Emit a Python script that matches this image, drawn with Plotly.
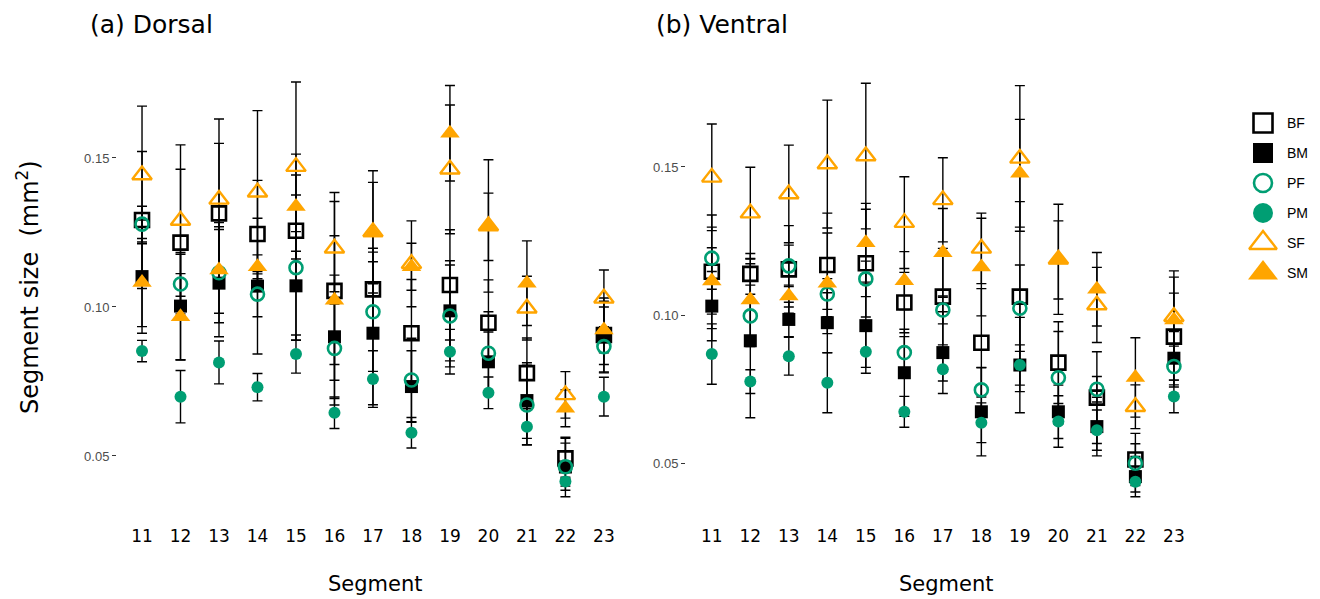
import plotly.graph_objects as go

# ---------------- data ----------------
segments = [11, 12, 13, 14, 15, 16, 17, 18, 19, 20, 21, 22, 23]
series = ["BF", "BM", "PF", "PM", "SF", "SM"]

# (a) Dorsal - means
dorsal_bf = [0.1292, 0.1216, 0.1314, 0.1245, 0.1256, 0.1054, 0.1059, 0.0912, 0.1074, 0.0947, 0.0778, 0.0492, 0.0906]
dorsal_bm = [0.1102, 0.1003, 0.1080, 0.1070, 0.1071, 0.0900, 0.0912, 0.0733, 0.0987, 0.0816, 0.0686, 0.0463, 0.0899]
dorsal_pf = [0.1278, 0.1077, 0.1115, 0.1043, 0.1132, 0.0861, 0.0984, 0.0755, 0.0970, 0.0845, 0.0671, 0.0464, 0.0867]
dorsal_pm = [0.0852, 0.0699, 0.0814, 0.0731, 0.0842, 0.0645, 0.0758, 0.0578, 0.0850, 0.0712, 0.0598, 0.0414, 0.0699]
dorsal_sf = [0.1443, 0.1290, 0.1361, 0.1385, 0.1471, 0.1197, 0.1252, 0.1145, 0.1462, 0.1272, 0.0996, 0.0705, 0.1029]
dorsal_sm = [0.1082, 0.0967, 0.1124, 0.1135, 0.1337, 0.1023, 0.1248, 0.1135, 0.1583, 0.1269, 0.1080, 0.0660, 0.0923]
# (a) Dorsal - error bar half-lengths
dorsal_bf_err = [0.0230, 0.0246, 0.0235, 0.0180, 0.0187, 0.0300, 0.0138, 0.0180, 0.0185, 0.0144, 0.0118, 0.0067, 0.0124]
dorsal_bm_err = [0.0190, 0.0180, 0.0180, 0.0228, 0.0182, 0.0207, 0.0240, 0.0120, 0.0168, 0.0100, 0.0127, 0.0100, 0.0120]
dorsal_pf_err = [0.0060, 0.0100, 0.0168, 0.0076, 0.0244, 0.0190, 0.0200, 0.0140, 0.0171, 0.0139, 0.0134, 0.0079, 0.0060]
dorsal_pm_err = [0.0036, 0.0088, 0.0072, 0.0046, 0.0064, 0.0053, 0.0095, 0.0051, 0.0075, 0.0053, 0.0060, 0.0015, 0.0065]
dorsal_sf_err = [0.0231, 0.0254, 0.0270, 0.0274, 0.0284, 0.0187, 0.0205, 0.0144, 0.0216, 0.0222, 0.0107, 0.0078, 0.0095]
dorsal_sm_err = [0.0148, 0.0145, 0.0145, 0.0040, 0.0176, 0.0216, 0.0170, 0.0079, 0.0160, 0.0113, 0.0142, 0.0062, 0.0077]

# (b) Ventral - means
ventral_bf = [0.1146, 0.1139, 0.1154, 0.1169, 0.1175, 0.1042, 0.1062, 0.0906, 0.1062, 0.0839, 0.0721, 0.0512, 0.0927]
ventral_bm = [0.1030, 0.0913, 0.0985, 0.0974, 0.0964, 0.0805, 0.0873, 0.0673, 0.0831, 0.0673, 0.0623, 0.0454, 0.0854]
ventral_pf = [0.1192, 0.0997, 0.1166, 0.1071, 0.1122, 0.0873, 0.1017, 0.0747, 0.1023, 0.0788, 0.0749, 0.0499, 0.0826]
ventral_pm = [0.0868, 0.0775, 0.0861, 0.0771, 0.0876, 0.0673, 0.0817, 0.0636, 0.0831, 0.0640, 0.0611, 0.0437, 0.0725]
ventral_sf = [0.1465, 0.1344, 0.1409, 0.1510, 0.1537, 0.1312, 0.1389, 0.1225, 0.1529, 0.1188, 0.1034, 0.0690, 0.0994]
ventral_sm = [0.1115, 0.1051, 0.1064, 0.1107, 0.1244, 0.1116, 0.1210, 0.1162, 0.1479, 0.1186, 0.1087, 0.0789, 0.0983]
# (b) Ventral - error bar half-lengths
ventral_bf_err = [0.0192, 0.0069, 0.0148, 0.0175, 0.0182, 0.0102, 0.0163, 0.0183, 0.0321, 0.0138, 0.0155, 0.0088, 0.0147]
ventral_bm_err = [0.0117, 0.0260, 0.0058, 0.0101, 0.0141, 0.0147, 0.0138, 0.0149, 0.0161, 0.0090, 0.0099, 0.0068, 0.0090]
ventral_pf_err = [0.0105, 0.0104, 0.0070, 0.0052, 0.0060, 0.0054, 0.0047, 0.0076, 0.0146, 0.0156, 0.0043, 0.0066, 0.0069]
ventral_pm_err = [0.0102, 0.0040, 0.0064, 0.0101, 0.0073, 0.0052, 0.0040, 0.0067, 0.0068, 0.0087, 0.0068, 0.0035, 0.0055]
ventral_sf_err = [0.0180, 0.0155, 0.0165, 0.0216, 0.0246, 0.0155, 0.0142, 0.0119, 0.0246, 0.0186, 0.0127, 0.0074, 0.0155]
ventral_sm_err = [0.0112, 0.0140, 0.0037, 0.0170, 0.0133, 0.0098, 0.0150, 0.0165, 0.0182, 0.0132, 0.0124, 0.0134, 0.0145]

y_tick_vals = [0.05, 0.10, 0.15]
y_tick_text = ["0.05", "0.10", "0.15"]
panel_titles = ["(a) Dorsal", "(b) Ventral"]

# ---------------- styles ----------------
ORANGE = "#FFA500"
GREEN = "#009E73"
style = {
    "BF": dict(symbol="square-open", color="black", size=14, lw=2.6, lsize=19),
    "BM": dict(symbol="square", color="black", size=13, lw=0, lsize=20),
    "PF": dict(symbol="circle-open", color=GREEN, size=13, lw=2.6, lsize=18),
    "PM": dict(symbol="circle", color=GREEN, size=12, lw=0, lsize=20),
    "SF": dict(symbol="triangle-up-open", color=ORANGE, size=17, lw=2.4, lsize=24),
    "SM": dict(symbol="triangle-up", color=ORANGE, size=17, lw=0, lsize=26),
}

panels = [
    ("x", "y", {"BF": (dorsal_bf, dorsal_bf_err), "BM": (dorsal_bm, dorsal_bm_err),
                "PF": (dorsal_pf, dorsal_pf_err), "PM": (dorsal_pm, dorsal_pm_err),
                "SF": (dorsal_sf, dorsal_sf_err), "SM": (dorsal_sm, dorsal_sm_err)}),
    ("x2", "y2", {"BF": (ventral_bf, ventral_bf_err), "BM": (ventral_bm, ventral_bm_err),
                  "PF": (ventral_pf, ventral_pf_err), "PM": (ventral_pm, ventral_pm_err),
                  "SF": (ventral_sf, ventral_sf_err), "SM": (ventral_sm, ventral_sm_err)}),
]

fig = go.Figure()

for xa, ya, data in panels:
    # error bars first (drawn beneath all points)
    for s in series:
        vals, errs = data[s]
        fig.add_trace(go.Scatter(
            x=segments, y=vals, xaxis=xa, yaxis=ya, mode="markers",
            marker=dict(size=1, color="rgba(0,0,0,0)"),
            error_y=dict(type="data", array=errs, color="black", thickness=1.4, width=5),
            showlegend=False, hoverinfo="skip"))
    for s in series:
        vals, errs = data[s]
        st = style[s]
        fig.add_trace(go.Scatter(
            x=segments, y=vals, xaxis=xa, yaxis=ya, mode="markers", name=s,
            marker=dict(symbol=st["symbol"], size=st["size"], color=st["color"],
                        line=dict(width=st["lw"], color=st["color"])),
            showlegend=False))

# page geometry: the page body has an 8px margin, so the figure is offset by 8px
OFF = 8
W, H = 1312, 591


def px_x(p):
    return (p - OFF) / W


def px_y(p):
    return 1 - (p - OFF) / H


# ---------------- manual legend (own axes, page-pixel coordinates) ----------------
legend_top = 123
legend_gap = 30
for i, s in enumerate(series):
    st = style[s]
    fig.add_trace(go.Scatter(
        x=[23], y=[legend_top + legend_gap * i], xaxis="x3", yaxis="y3", mode="markers",
        marker=dict(symbol=st["symbol"], size=st["lsize"], color=st["color"],
                    line=dict(width=st["lw"], color=st["color"])),
        showlegend=False, hoverinfo="skip"))
    fig.add_annotation(x=45, y=legend_top + legend_gap * i, xref="x3", yref="y3",
                       text=s, showarrow=False, xanchor="left", yanchor="middle",
                       font=dict(family="Liberation Sans, Arial", size=14, color="black"))

yaxis_common = dict(showgrid=False, zeroline=False, showline=False, ticks="outside",
                    ticklen=4, tickwidth=1, tickcolor="#333333",
                    tickvals=y_tick_vals, ticktext=y_tick_text,
                    tickfont=dict(family="Liberation Sans, Arial", size=13, color="#4D4D4D"),
                    domain=[px_y(518), px_y(62)])
xaxis_common = dict(showgrid=False, zeroline=False, showline=False, ticks="outside",
                    ticklen=3, tickcolor="rgba(0,0,0,0)", tickvals=segments,
                    ticktext=[str(s) for s in segments],
                    tickfont=dict(family="DejaVu Sans", size=17, color="black"))

fig.update_layout(
    width=W, height=H,
    margin=dict(l=0, r=0, t=0, b=0),
    paper_bgcolor="white", plot_bgcolor="white",
    showlegend=False,
    xaxis=dict(**xaxis_common, domain=[px_x(117), px_x(627)], range=[10.35, 23.6]),
    yaxis=dict(**yaxis_common, range=[0.02919, 0.18221]),
    xaxis2=dict(**xaxis_common, domain=[px_x(686), px_x(1197)], range=[10.33, 23.6], anchor="y2"),
    yaxis2=dict(**yaxis_common, anchor="x2", range=[0.03142, 0.18547]),
    xaxis3=dict(domain=[px_x(1240), 1.0], range=[0, OFF + W - 1240], visible=False, anchor="y3"),
    yaxis3=dict(domain=[0, 1], range=[OFF + H, OFF], visible=False, anchor="x3"),
)

# panel titles
fig.add_annotation(x=px_x(88), y=px_y(24), xref="paper", yref="paper", text=panel_titles[0],
                   showarrow=False, xanchor="left", yanchor="middle",
                   font=dict(family="DejaVu Sans", size=25, color="black"))
fig.add_annotation(x=px_x(654), y=px_y(24), xref="paper", yref="paper", text=panel_titles[1],
                   showarrow=False, xanchor="left", yanchor="middle",
                   font=dict(family="DejaVu Sans", size=25, color="black"))
# axis titles
for cx in (375, 946):
    fig.add_annotation(x=px_x(cx), y=px_y(584), xref="paper", yref="paper", text="Segment",
                       showarrow=False, xanchor="center", yanchor="middle",
                       font=dict(family="DejaVu Sans", size=21, color="black"))
fig.add_annotation(x=px_x(28), y=px_y(287), xref="paper", yref="paper",
                   text="Segment size  (mm<sup>2</sup>)", textangle=-90,
                   showarrow=False, xanchor="center", yanchor="middle",
                   font=dict(family="DejaVu Sans", size=24, color="black"))

fig.write_html("out.html")
